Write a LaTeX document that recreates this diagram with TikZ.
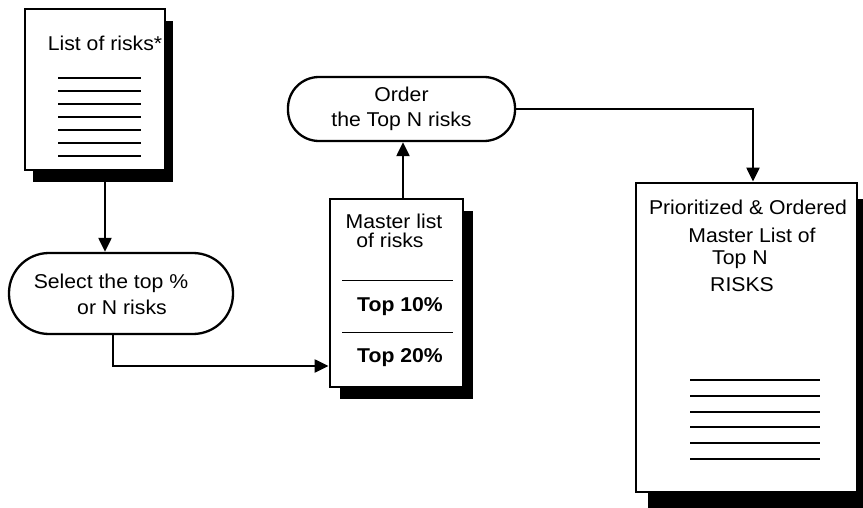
\documentclass[tikz,border=0pt]{standalone}
\usepackage{fontspec}
\setmainfont{Liberation Sans}[FakeStretch=1.06]
\usetikzlibrary{arrows.meta,shadows}
\begin{document}
\begin{tikzpicture}[x=1pt,y=-1pt,
  every node/.style={font=\fontsize{20}{25}\selectfont, inner sep=0pt},
  page/.style={rectangle, draw, line width=2.8pt, fill=white},
  pill/.style={rectangle, draw, line width=2.3pt, fill=white},
  rule/.style={line width=2.6pt},
  thinrule/.style={line width=1pt},
  conn/.style={line width=2.2pt, -{Triangle[length=14pt,width=13pt]}},
  boldtxt/.style={font={\fontsize{20}{25}\selectfont\bfseries}}
]
% canvas
\fill[white] (0,0) rectangle (863,508);
\useasboundingbox (0,0) rectangle (863,508);

% input document: list of risks
\node[page, minimum width=140pt, minimum height=161pt,
      drop shadow={shadow xshift=8pt, shadow yshift=-12pt, fill=black, opacity=1}] (lst) at (95,89.5) {};
\node (lsttitle) at (105,43) {List of risks*};
\foreach \y in {78,91,...,156} \draw[rule] (58,\y) -- (141,\y);

% step: select the top risks
\node[pill, minimum width=224pt, minimum height=81pt, rounded corners=40pt] (sel) at (121,293.5) {};
\node (sel1) at (111,283) {Select the top \%};
\node (sel2) at (122,307) {or N risks};

% master list of risks
\node[page, minimum width=133pt, minimum height=188pt,
      drop shadow={shadow xshift=10pt, shadow yshift=-12pt, fill=black, opacity=1}] (mst) at (396.5,293) {};
\node (mst1) at (394,221) {Master list};
\node (mst2) at (390,240) {of risks};
\draw[thinrule] (342,280) -- (453,280);
\draw[thinrule] (342,332) -- (453,332);
\node[boldtxt] (top10) at (400,307) {Top 10\%};
\node[boldtxt] (top20) at (400,358) {Top 20\%};

% step: order the top risks
\node[pill, minimum width=227pt, minimum height=64pt, rounded corners=31pt, align=center] (ord) at (401.5,109) {Order\\the Top N risks};

% output document
\node[page, minimum width=221pt, minimum height=309pt,
      drop shadow={shadow xshift=12pt, shadow yshift=-16pt, fill=black, opacity=1}] (big) at (746.5,337.5) {};
\node (big1) at (748,207) {Prioritized \& Ordered};
\node (big2) at (752,235) {Master List of};
\node[anchor=west] (big3) at (712,260) {Top N};
\node[anchor=west] (big4) at (710,285) {RISKS};
\foreach \y in {380,396,412,427,443,459} \draw[rule] (690,\y) -- (820,\y);

% flow
\draw[conn] ([xshift=10pt]lst.south) -- ([xshift=10pt]lst.south |- sel.north);
\draw[conn] ([xshift=-8pt]sel.south) |- ([yshift=-73pt]mst.west);
\draw[conn] ([xshift=6.5pt]mst.north) -- ([xshift=6.5pt]mst.north |- ord.south);
\draw[conn] (ord.east) -| ([xshift=6.5pt]big.north);
\end{tikzpicture}
\end{document}
